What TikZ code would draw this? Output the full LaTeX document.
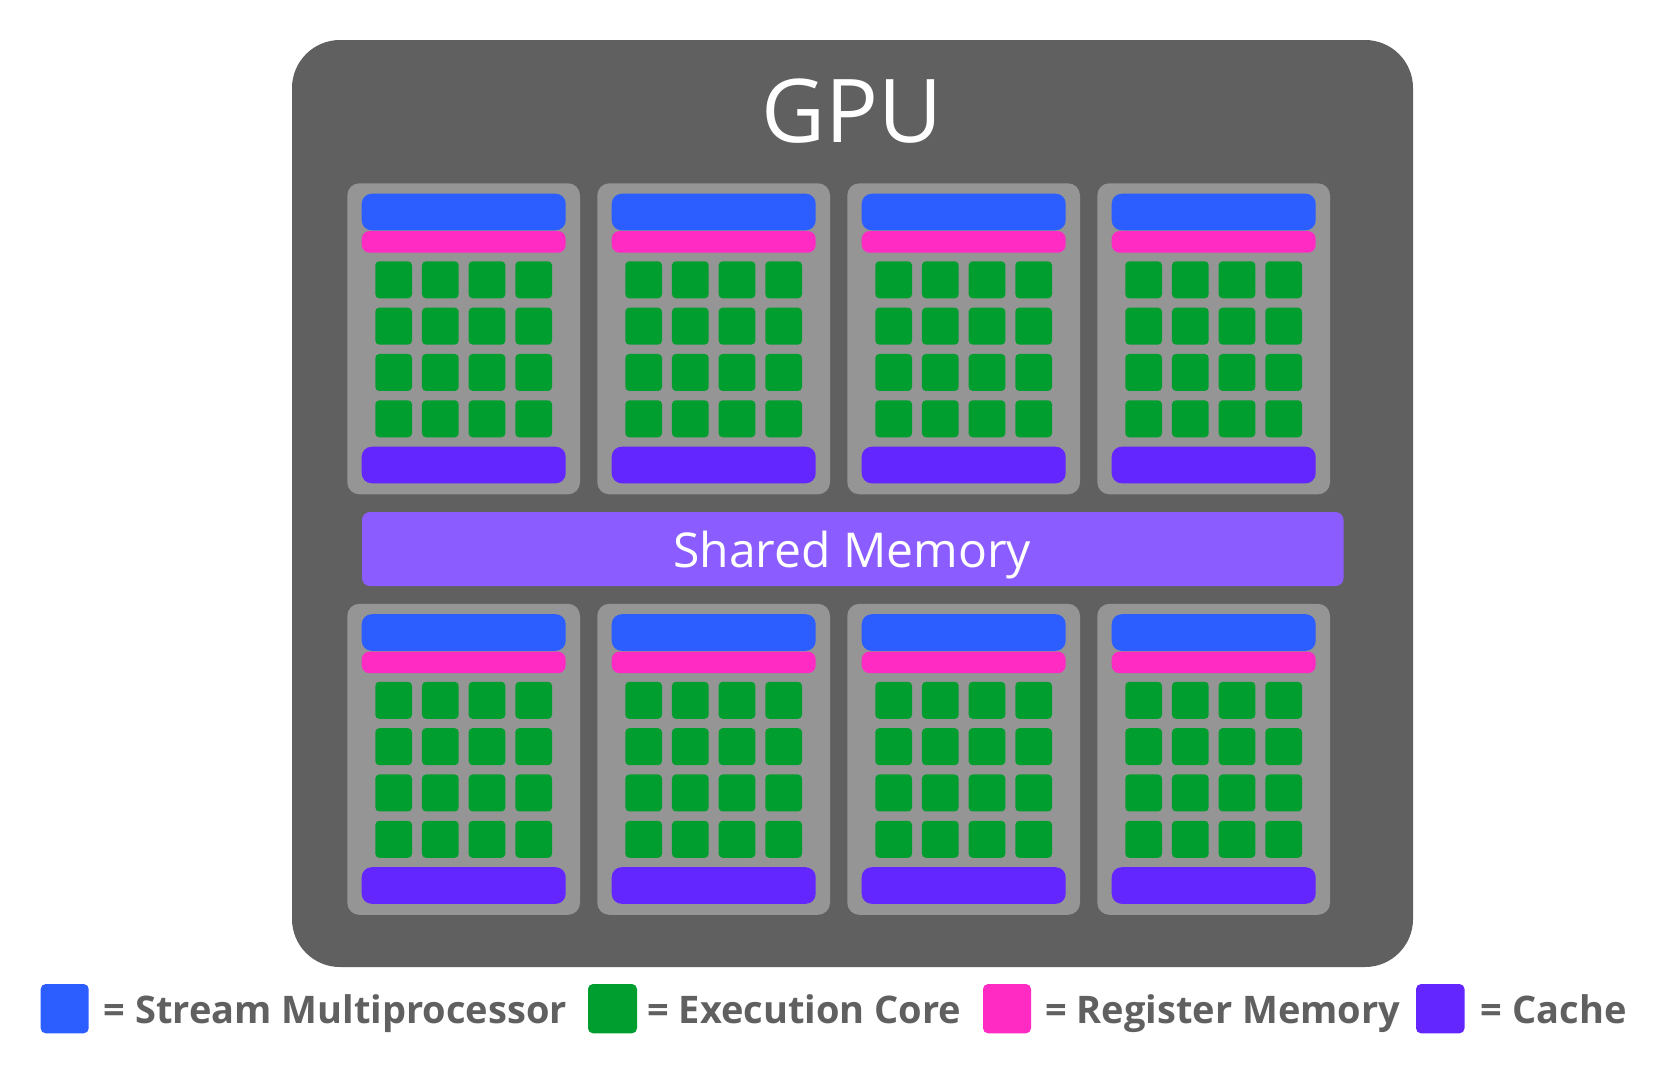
\documentclass[tikz,border=0pt]{standalone}
\usepackage{fontspec}
\setmainfont{Open Sans}
\begin{document}
\begin{tikzpicture}[x=1pt,y=-1pt]
\definecolor{gpugray}{HTML}{606060}
\definecolor{smgray}{HTML}{959595}
\definecolor{smblue}{HTML}{2B5DFF}
\definecolor{regpink}{HTML}{FF2BC2}
\definecolor{coregreen}{HTML}{009E2E}
\definecolor{cachepurple}{HTML}{6426FF}
\definecolor{sharedpurple}{HTML}{8B5CFF}
\definecolor{legtext}{HTML}{606060}
\tikzset{
  legtxt/.style={anchor=base west, inner sep=0pt, text=legtext, font=\fontsize{38}{38}\selectfont\bfseries},
  legbox/.style={rounded corners=5pt},
}
\useasboundingbox (0,0) rectangle (1680,1080);
\fill[white] (0,0) rectangle (1680,1080);
% GPU frame
\fill[gpugray, rounded corners=48pt] (292,40) rectangle (1413,967);
\node[anchor=base, inner sep=0pt, text=white, font=\fontsize{88}{88}\selectfont] (title) at (852,142.5) {GPU};
% Shared memory
\fill[sharedpurple, rounded corners=8pt] (362,512) rectangle (1343.5,586);
\node[anchor=base, inner sep=0pt, text=white, font=\fontsize{48}{48}\selectfont] (shared) at (852,567.7) {Shared Memory};
% SMs
\foreach \i in {0,1,2,3}{
  \foreach \j in {0,1}{
    \pgfmathsetmacro\X{347.3+250*\i}
    \pgfmathsetmacro\Y{183.3+420.5*\j}
    \fill[smgray, rounded corners=12pt] (\X,\Y) rectangle ++(232.7,311);
    \fill[smblue, rounded corners=10pt] (\X+14.4,\Y+10.4) rectangle ++(204,36.6);
    \fill[regpink, rounded corners=8pt] (\X+14.4,\Y+47.7) rectangle ++(204,21.7);
    \fill[cachepurple, rounded corners=10pt] (\X+14.4,\Y+263.4) rectangle ++(204,36.6);
    \foreach \c in {0,1,2,3}{
      \foreach \r in {0,1,2,3}{
        \fill[coregreen, rounded corners=4pt] (\X+28+46.67*\c,\Y+78+46.33*\r) rectangle ++(36.7,37);
      }
    }
  }
}
% Legend
\fill[smblue, legbox] (40.7,984) rectangle (88.7,1033.3);
\node[legtxt] (l1) at (103.4,1023.3) {= Stream Multiprocessor};
\fill[coregreen, legbox] (588,984) rectangle (637,1033.3);
\node[legtxt] (l2) at (647,1023.3) {= Execution Core};
\fill[regpink, legbox] (983,984) rectangle (1031,1033.3);
\node[legtxt] (l3) at (1045,1023.3) {= Register Memory};
\fill[cachepurple, legbox] (1416,984) rectangle (1464.5,1033.3);
\node[legtxt] (l4) at (1480.6,1023.3) {= Cache};
\end{tikzpicture}
\end{document}
